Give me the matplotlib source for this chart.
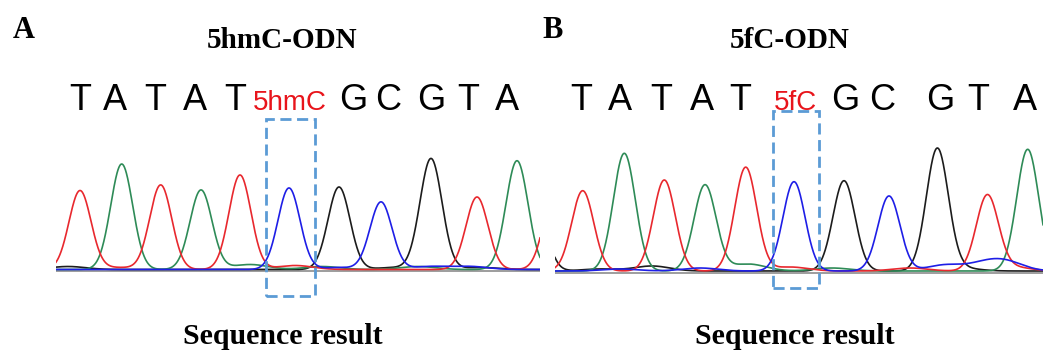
import matplotlib.pyplot as plt
import numpy as np
from matplotlib.patches import Rectangle

# called bases and the modified position in each read
bases = ["T", "A", "T", "A", "T", "C", "G", "C", "G", "T", "A"]
labels_a = ["T", "A", "T", "A", "T", "5hmC", "G", "C", "G", "T", "A"]
labels_b = ["T", "A", "T", "A", "T", "5fC", "G", "C", "G", "T", "A"]
modified_index = 5

# main peak positions (scan units) and peak heights
pos_a = [80, 121.7, 160.7, 201, 240, 289, 339, 381, 431, 477, 517]
height_a = [78.8, 105.5, 84.5, 79.5, 94.5, 81.5, 82.5, 67.5, 110.8, 72.5, 108.8]
pos_b = [582.7, 624.3, 664.3, 705, 745.7, 794, 844, 889, 937.3, 987.3, 1027.7]
height_b = [80.3, 117.7, 91, 86, 103.7, 89.3, 90.3, 75, 121.7, 75, 121.7]

# off-read peaks at the edges and small background signal: (base, position, height)
minor_a = [("T", 555, 80), ("G", 68, 3), ("T", 118, 2), ("A", 250, 5),
           ("T", 295, 4), ("A", 322, 3), ("C", 338, 2), ("G", 395, 2),
           ("A", 418, 3), ("C", 430, 3), ("C", 470, 3), ("G", 480, 2)]
minor_b = [("G", 535, 70), ("G", 600, 2), ("C", 620, 2), ("G", 652, 5),
           ("C", 700, 3), ("A", 748, 7), ("T", 790, 4), ("A", 832, 3),
           ("T", 910, 3), ("G", 960, 3), ("C", 945, 6), ("C", 985, 7),
           ("C", 1007, 8), ("T", 1012, 4)]

titles = ["5hmC-ODN", "5fC-ODN"]
panel_tags = ["A", "B"]
xlabel = "Sequence result"

base_colors = {"G": "#1c1c1c", "A": "#2e8b57", "T": "#e8282e", "C": "#1e1ee6"}
draw_order = ["G", "A", "T", "C"]

W, H, DPI = 1043, 358, 100
fig = plt.figure(figsize=(W / DPI, H / DPI), dpi=DPI)


def fx(px):
    return px / W


def fy(py):
    return 1 - py / H


def trace(x, pos, heights, minor, base, sigma=11.0):
    y = np.zeros_like(x)
    for b, p, h in zip(bases, pos, heights):
        if b == base:
            y += h * np.exp(-0.5 * ((x - p) / sigma) ** 2)
    for b, p, h in minor:
        if b == base:
            s = sigma if h > 20 else sigma * 1.6
            y += h * np.exp(-0.5 * ((x - p) / s) ** 2)
    return y


panels = [
    dict(pos=pos_a, heights=height_a, minor=minor_a, labels=labels_a,
         x0=56, x1=540, base_px=269.5, title_x=282, tag_x=13,
         label_x=[80.7, 115, 155.7, 195, 235, 290, 353, 388, 431.7, 468, 506.7],
         box=(265.7, 119, 315.3, 296), xl_x=283),
    dict(pos=pos_b, heights=height_b, minor=minor_b, labels=labels_b,
         x0=555, x1=1043, base_px=271, title_x=790, tag_x=542,
         label_x=[581.7, 620, 661.7, 701.7, 740, 795, 845, 881.7, 940, 978, 1025],
         box=(772.7, 111, 819.3, 288), xl_x=795),
]

top_px, bot_px = 100, 300
for i, p in enumerate(panels):
    ax = fig.add_axes([fx(p["x0"]), fy(bot_px), fx(p["x1"] - p["x0"]),
                       (bot_px - top_px) / H])
    ax.set_xlim(p["x0"], p["x1"])
    ax.set_ylim(-(bot_px - p["base_px"]), p["base_px"] - top_px)
    ax.axis("off")
    x = np.linspace(p["x0"], p["x1"], 1500)
    ax.axhline(-1.5, color="#8c8c8c", lw=1.2)
    for b in draw_order:
        ax.plot(x, trace(x, p["pos"], p["heights"], p["minor"], b),
                color=base_colors[b], lw=1.2)

    for lx, lab, k in zip(p["label_x"], p["labels"], range(len(bases))):
        mod = k == modified_index
        fig.text(fx(lx), fy(109.5), lab, ha="center", va="baseline",
                 fontsize=20 if mod else 26, family="Liberation Sans",
                 color="#e8141b" if mod else "black")

    bx0, by0, bx1, by1 = p["box"]
    fig.patches.append(Rectangle((fx(bx0), fy(by1)), fx(bx1 - bx0),
                                 (by1 - by0) / H, transform=fig.transFigure,
                                 fill=False, ec="#5b9bd5", lw=2.0,
                                 ls=(0, (4, 2))))

    fig.text(fx(p["title_x"]), fy(41), titles[i], ha="center", va="center",
             fontsize=21, fontweight="bold", family="Liberation Serif")
    fig.text(fx(p["tag_x"]), fy(38), panel_tags[i], ha="left", va="baseline",
             fontsize=22, fontweight="bold", family="Liberation Serif")
    fig.text(fx(p["xl_x"]), fy(337), xlabel, ha="center", va="center",
             fontsize=21.5, fontweight="bold", family="Liberation Serif")

fig.savefig("out.png", dpi=DPI)
